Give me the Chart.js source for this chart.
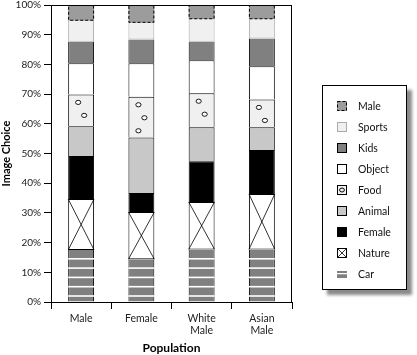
<!DOCTYPE html>
<html>
<head>
<meta charset="utf-8">
<script src="https://cdn.jsdelivr.net/npm/chart.js@4.4.1/dist/chart.umd.min.js"></script>
<style>
  body { margin: 0; background: #fff; font-family: Lato, "Open Sans", sans-serif; }
  #wrap { position: relative; width: 417px; height: 355px; }
  #legend {
    position: absolute; left: 322px; top: 85px; width: 85px; height: 205px;
    box-sizing: border-box; border: 1px solid #000; background: #fff;
    box-shadow: 5px 5px 3px #8a8a8a; padding-top: 9px;
  }
  .item { display: flex; align-items: center; height: 21px; font-size: 10.5px; color: #111; }
  .item canvas { margin-left: 14px; margin-right: 11px; }
</style>
</head>
<body>
<div id="wrap">
  <canvas id="chart" width="417" height="355"></canvas>
  <div id="legend"></div>
</div>
<script>
// categories, bottom-to-top series
const categories = ['Male', 'Female', ['White', 'Male'], ['Asian', 'Male']];
const seriesNames = ['Car', 'Nature', 'Female', 'Animal', 'Food', 'Object', 'Kids', 'Sports', 'Male'];
const yTicks = [0, 10, 20, 30, 40, 50, 60, 70, 80, 90, 100];

const car    = [17.5, 14.4, 17.7, 17.7];
const nature = [17.2, 15.9, 16.0, 18.7];
const female = [14.5, 6.4, 13.7, 14.8];
const animal = [10.0, 18.7, 11.4, 7.6];
const food   = [10.7, 13.7, 11.5, 9.4];
const object = [10.5, 11.3, 11.1, 11.2];
const kids   = [7.2, 8.0, 6.2, 9.3];
const sports = [7.1, 5.6, 7.6, 6.5];
const male   = [5.3, 6.0, 4.8, 4.8];

const seriesValues = [car, nature, female, animal, food, object, kids, sports, male];

const fills = {
  Car: '#808080', Nature: '#ffffff', Female: '#000000', Animal: '#c8c8c8',
  Food: '#f0f0f0', Object: '#ffffff', Kids: '#808080', Sports: '#f0f0f0', Male: '#9c9c9c'
};
const borders = {
  Car: { c: '#000', w: { left: 1, right: 1, top: 0, bottom: 0 } },
  Nature: { c: '#000', w: { left: 1, right: 1, top: 1, bottom: 1 } },
  Female: { c: '#000', w: { left: 1, right: 1, top: 1, bottom: 0 } },
  Animal: { c: '#000', w: { left: 1, right: 1, top: 1, bottom: 0 } },
  Food: { c: '#000', w: { left: 1, right: 1, top: 1, bottom: 0 } },
  Object: { c: '#000', w: { left: 1, right: 1, top: 1, bottom: 0 } },
  Kids: { c: '#000', w: { left: 1, right: 1, top: 0, bottom: 0 } },
  Sports: { c: '#aaaaaa', w: { left: 1, right: 1, top: 0, bottom: 1 } },
  Male: { c: '#000', w: 0 }
};

const datasets = seriesNames.map((name, i) => ({
  label: name,
  data: seriesValues[i],
  backgroundColor: fills[name],
  borderColor: borders[name].c,
  borderWidth: borders[name].w,
  borderSkipped: false,
  categoryPercentage: 1,
  barPercentage: 0.43
}));

// extra marks: stripes, crosses, circles, dashed outline
function drawCar(ctx, l, r, top, bottom) {
  ctx.strokeStyle = '#fff';
  ctx.lineWidth = 1.6;
  for (let y = bottom - 5.5; y > top + 4; y -= 9.3) {
    ctx.beginPath(); ctx.moveTo(l, y); ctx.lineTo(r, y); ctx.stroke();
  }
}
function drawCross(ctx, l, r, top, bottom) {
  ctx.strokeStyle = '#000';
  ctx.lineWidth = 0.8;
  ctx.beginPath();
  ctx.moveTo(l, top); ctx.lineTo(r, bottom);
  ctx.moveTo(r, top); ctx.lineTo(l, bottom);
  ctx.stroke();
}
function drawCircles(ctx, l, r, top, bottom) {
  ctx.strokeStyle = '#000';
  ctx.lineWidth = 0.9;
  let k = 0;
  for (let y = top + 8; y < bottom - 5; y += 13, k++) {
    const x = l + (k % 2 ? 16 : 10);
    ctx.beginPath(); ctx.ellipse(x, y, 2.6, 2.1, 0, 0, Math.PI * 2);
    ctx.fillStyle = '#fff'; ctx.fill(); ctx.stroke();
  }
}
function drawDashed(ctx, l, r, top, bottom) {
  ctx.strokeStyle = '#000';
  ctx.lineWidth = 1;
  ctx.setLineDash([3, 2]);
  ctx.strokeRect(l + 0.5, top + 0.5, r - l - 1, bottom - top - 1);
  ctx.setLineDash([]);
}
const extras = { Car: drawCar, Nature: drawCross, Food: drawCircles, Male: drawDashed };

const extrasPlugin = {
  id: 'extras',
  afterDatasetsDraw(chart) {
    const ctx = chart.ctx;
    chart.data.datasets.forEach((ds, i) => {
      const fn = extras[ds.label];
      if (!fn) return;
      chart.getDatasetMeta(i).data.forEach(el => {
        const l = el.x - el.width / 2, r = el.x + el.width / 2;
        ctx.save();
        fn(ctx, l, r, Math.min(el.y, el.base), Math.max(el.y, el.base));
        ctx.restore();
      });
    });
  }
};

const framePlugin = {
  id: 'frame',
  afterDraw(chart) {
    const a = chart.chartArea, ctx = chart.ctx;
    ctx.save();
    ctx.strokeStyle = '#000';
    ctx.lineWidth = 1;
    ctx.strokeRect(Math.round(a.left) + 0.5, Math.round(a.top) + 0.5,
      Math.round(a.right - a.left) - 1, Math.round(a.bottom - a.top));
    ctx.restore();
  }
};

new Chart(document.getElementById('chart'), {
  type: 'bar',
  data: { labels: categories, datasets: datasets },
  options: {
    responsive: false,
    animation: false,
    layout: { padding: { left: 0, right: 125, top: 5, bottom: 0 } },
    plugins: { legend: { display: false }, tooltip: { enabled: false } },
    scales: {
      x: {
        stacked: true,
        grid: { display: true, offset: true, drawOnChartArea: false, tickLength: 7, color: '#000' },
        border: { display: true, color: '#000' },
        ticks: { color: '#222', font: { family: 'Lato', size: 10.5 }, padding: 3, maxRotation: 0 },
        title: { display: true, text: 'Population', color: '#000',
          font: { family: 'Lato', size: 12, weight: 'bold' }, padding: { top: 4, bottom: 0 } },
        afterFit: s => { s.height = 53; }
      },
      y: {
        stacked: true,
        min: 0, max: 100,
        afterBuildTicks: s => { s.ticks = yTicks.map(v => ({ value: v })); },
        grid: { display: true, drawOnChartArea: false, tickLength: 7, color: '#000' },
        border: { display: true, color: '#000' },
        ticks: { color: '#222', font: { family: 'Lato', size: 10 }, padding: 3,
          callback: v => v + '%' },
        title: { display: true, text: 'Image Choice', color: '#000',
          font: { family: 'Lato', size: 11, weight: 'bold' }, padding: 0 },
        afterFit: s => { s.width = 51; s.paddingTop = 0; s.paddingBottom = 0; }
      }
    }
  },
  plugins: [extrasPlugin, framePlugin]
});

// legend, top to bottom
function drawIcon(c, name) {
  const ctx = c.getContext('2d');
  const s = 10;
  ctx.fillStyle = fills[name];
  ctx.fillRect(0, 0, s, s);
  if (name === 'Car') {
    ctx.fillStyle = '#fff';
    ctx.fillRect(0, 0, s, 2);
    ctx.fillRect(0, 4, s, 1.5);
    ctx.fillRect(0, 9, s, 1);
    ctx.fillStyle = '#808080';
    ctx.fillRect(0, 2, s, 2);
    ctx.fillRect(0, 5.5, s, 3.5);
    return;
  }
  if (name === 'Male') { drawDashed(ctx, 0, s, 0, s); return; }
  ctx.strokeStyle = name === 'Sports' ? '#aaa' : '#000';
  ctx.lineWidth = 1;
  ctx.strokeRect(0.5, 0.5, s - 1, s - 1);
  if (name === 'Nature') drawCross(ctx, 0.5, s - 0.5, 0.5, s - 0.5);
  if (name === 'Food') {
    ctx.beginPath(); ctx.ellipse(5, 5, 2.4, 2, 0, 0, Math.PI * 2); ctx.stroke();
  }
}
const legendEl = document.getElementById('legend');
seriesNames.slice().reverse().forEach(name => {
  const row = document.createElement('div');
  row.className = 'item';
  const c = document.createElement('canvas');
  c.width = 10; c.height = 10;
  drawIcon(c, name);
  const t = document.createElement('span');
  t.textContent = name;
  row.appendChild(c);
  row.appendChild(t);
  legendEl.appendChild(row);
});
</script>
</body>
</html>
